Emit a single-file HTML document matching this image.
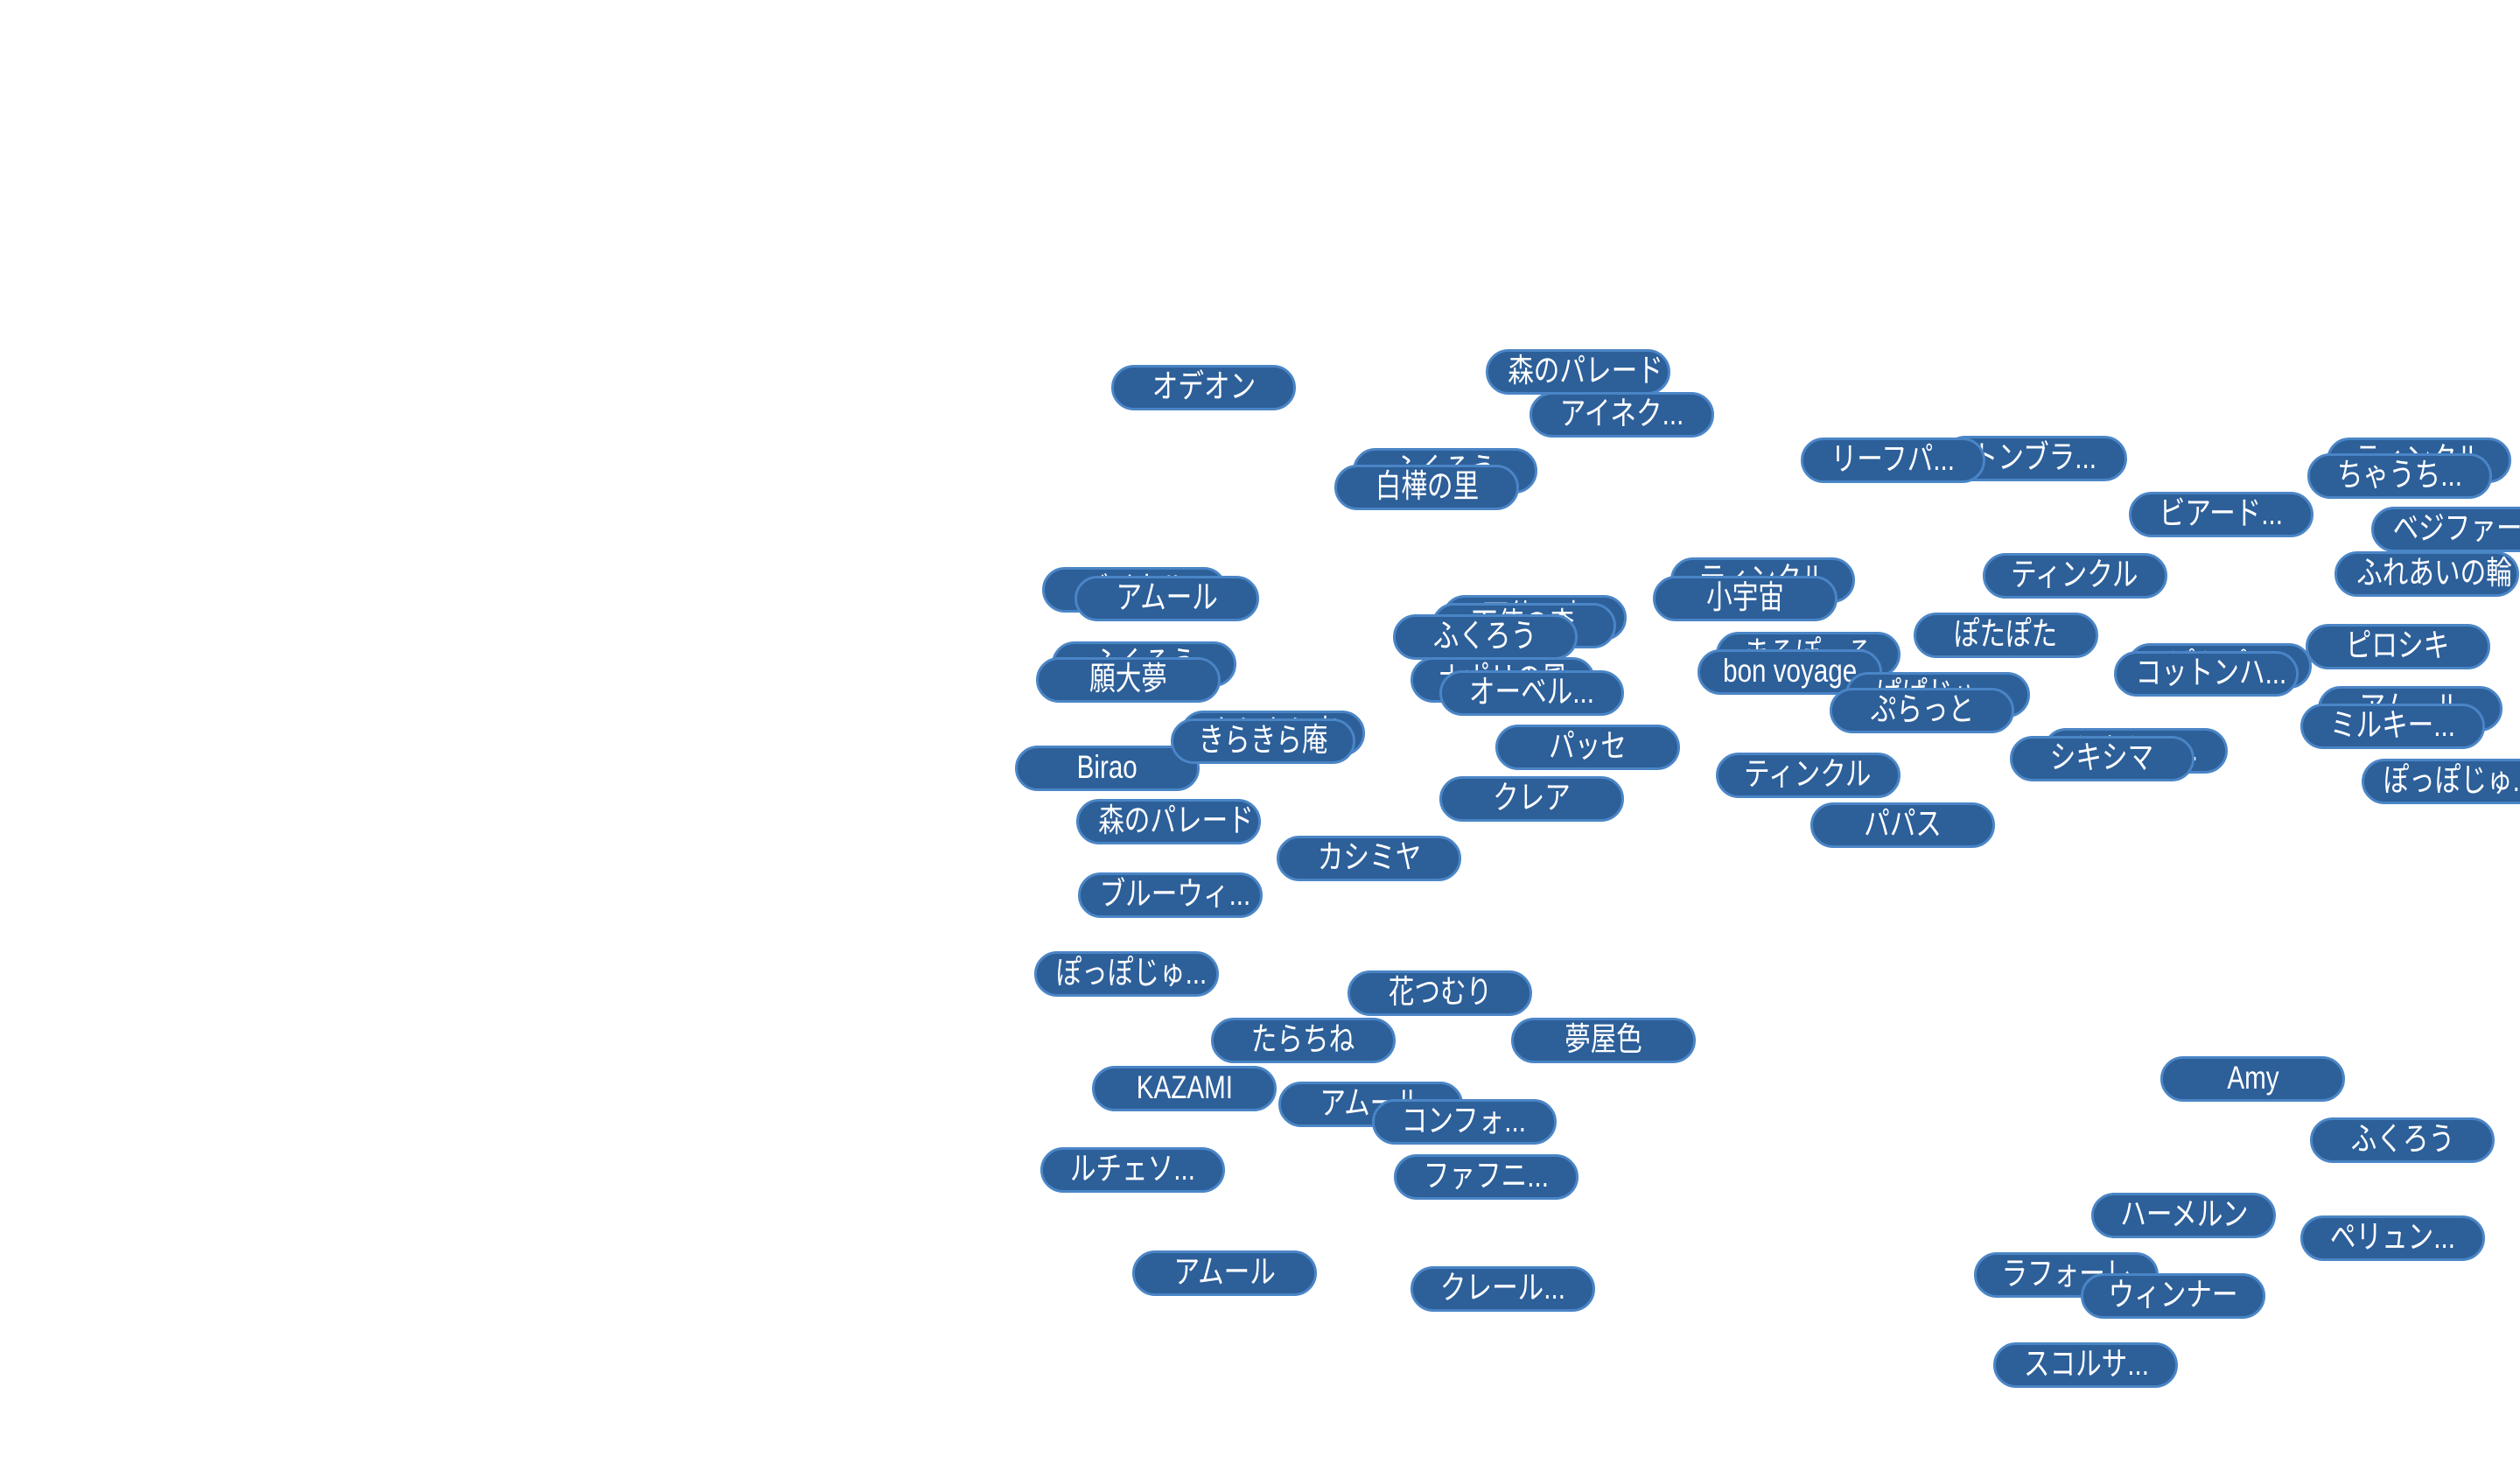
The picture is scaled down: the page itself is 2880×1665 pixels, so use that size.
<!DOCTYPE html>
<html><head><meta charset="utf-8"><style>
html,body{margin:0;padding:0;background:#fff;}
body{width:2880px;height:1665px;position:relative;overflow:hidden;}
.p{position:absolute;box-sizing:border-box;width:211px;height:52px;border-radius:26px;background:#2d5f99;border:3.5px solid #4a85c6;color:#fff;
font-family:"Liberation Sans","Noto Sans CJK JP",sans-serif;font-size:37px;line-height:44px;text-align:center;white-space:nowrap;overflow:hidden;
left:calc((var(--x) - 57.5) * 1.8367px);top:calc((var(--y) - 14) * 1.8367px);}
.p span{display:inline-block;transform:scaleX(0.8);}
</style></head><body>
<div class="p" style="--x:749;--y:241"><span>オデオン</span></div>
<div class="p" style="--x:982;--y:231"><span>森のパレード</span></div>
<div class="p" style="--x:1009;--y:258"><span>アイネク...</span></div>
<div class="p" style="--x:899;--y:293"><span>ふくろう</span></div>
<div class="p" style="--x:888;--y:303"><span>白樺の里</span></div>
<div class="p" style="--x:1266;--y:285"><span>トンブラ...</span></div>
<div class="p" style="--x:1178;--y:286"><span>リーフパ...</span></div>
<div class="p" style="--x:1505;--y:286"><span>ティンクル</span></div>
<div class="p" style="--x:1493;--y:296"><span>ちゃうち...</span></div>
<div class="p" style="--x:1382;--y:320"><span>ビアード...</span></div>
<div class="p" style="--x:1533;--y:329"><span>ベジファー...</span></div>
<div class="p" style="--x:1510;--y:357"><span>ふれあいの輪</span></div>
<div class="p" style="--x:1291;--y:358"><span>ティンクル</span></div>
<div class="p" style="--x:706;--y:367"><span>バイカル</span></div>
<div class="p" style="--x:726;--y:372"><span>アムール</span></div>
<div class="p" style="--x:955;--y:384"><span>天使の森</span></div>
<div class="p" style="--x:948;--y:389"><span>天使の森</span></div>
<div class="p" style="--x:924;--y:396"><span>ふくろう</span></div>
<div class="p" style="--x:1097;--y:361"><span>ティンクル</span></div>
<div class="p" style="--x:1086;--y:372"><span>小宇宙</span></div>
<div class="p" style="--x:1248;--y:395"><span>ぽたぽた</span></div>
<div class="p" style="--x:712;--y:413"><span>ふくろう</span></div>
<div class="p" style="--x:702;--y:423"><span>願大夢</span></div>
<div class="p" style="--x:1125;--y:407"><span>まろぽーろ</span></div>
<div class="p" style="--x:1114;--y:418"><span>bon voyage</span></div>
<div class="p" style="--x:935;--y:423"><span>ナポリの風</span></div>
<div class="p" style="--x:953;--y:431"><span>オーベル...</span></div>
<div class="p" style="--x:1206;--y:432"><span>ぱぱじゅ...</span></div>
<div class="p" style="--x:1196;--y:442"><span>ぷらっと</span></div>
<div class="p" style="--x:1381;--y:414"><span>ぱぷぴ...</span></div>
<div class="p" style="--x:1373;--y:419"><span>コットンハ...</span></div>
<div class="p" style="--x:1492;--y:402"><span>ピロシキ</span></div>
<div class="p" style="--x:1500;--y:441"><span>アムール</span></div>
<div class="p" style="--x:1489;--y:452"><span>ミルキー...</span></div>
<div class="p" style="--x:792;--y:456"><span>きらきら庵</span></div>
<div class="p" style="--x:689;--y:478"><span>Birao</span></div>
<div class="p" style="--x:786;--y:461"><span>きらきら庵</span></div>
<div class="p" style="--x:988;--y:465"><span>パッセ</span></div>
<div class="p" style="--x:1329;--y:467"><span>シキシマ...</span></div>
<div class="p" style="--x:1308;--y:472"><span>シキシマ</span></div>
<div class="p" style="--x:1527;--y:486"><span>ぽっぽじゅ...</span></div>
<div class="p" style="--x:1125;--y:482"><span>ティンクル</span></div>
<div class="p" style="--x:953;--y:497"><span>クレア</span></div>
<div class="p" style="--x:727;--y:511"><span>森のパレード</span></div>
<div class="p" style="--x:1184;--y:513"><span>パパス</span></div>
<div class="p" style="--x:852;--y:534"><span>カシミヤ</span></div>
<div class="p" style="--x:728;--y:557"><span>ブルーウィ...</span></div>
<div class="p" style="--x:701;--y:606"><span>ぽっぽじゅ...</span></div>
<div class="p" style="--x:896;--y:618"><span>花つむり</span></div>
<div class="p" style="--x:811;--y:647"><span>たらちね</span></div>
<div class="p" style="--x:998;--y:647"><span>夢屋色</span></div>
<div class="p" style="--x:737;--y:677"><span>KAZAMI</span></div>
<div class="p" style="--x:853;--y:687"><span>アムール</span></div>
<div class="p" style="--x:911;--y:698"><span>コンフォ...</span></div>
<div class="p" style="--x:925;--y:732"><span>ファフニ...</span></div>
<div class="p" style="--x:705;--y:728"><span>ルチェソ...</span></div>
<div class="p" style="--x:1402;--y:671"><span>Amy</span></div>
<div class="p" style="--x:1495;--y:709"><span>ふくろう</span></div>
<div class="p" style="--x:1359;--y:756"><span>ハーメルン</span></div>
<div class="p" style="--x:1489;--y:770"><span>ペリュン...</span></div>
<div class="p" style="--x:762;--y:792"><span>アムール</span></div>
<div class="p" style="--x:935;--y:802"><span>クレール...</span></div>
<div class="p" style="--x:1286;--y:793"><span>ラフォーレ</span></div>
<div class="p" style="--x:1352;--y:806"><span>ウィンナー</span></div>
<div class="p" style="--x:1298;--y:849"><span>スコルサ...</span></div>
</body></html>
